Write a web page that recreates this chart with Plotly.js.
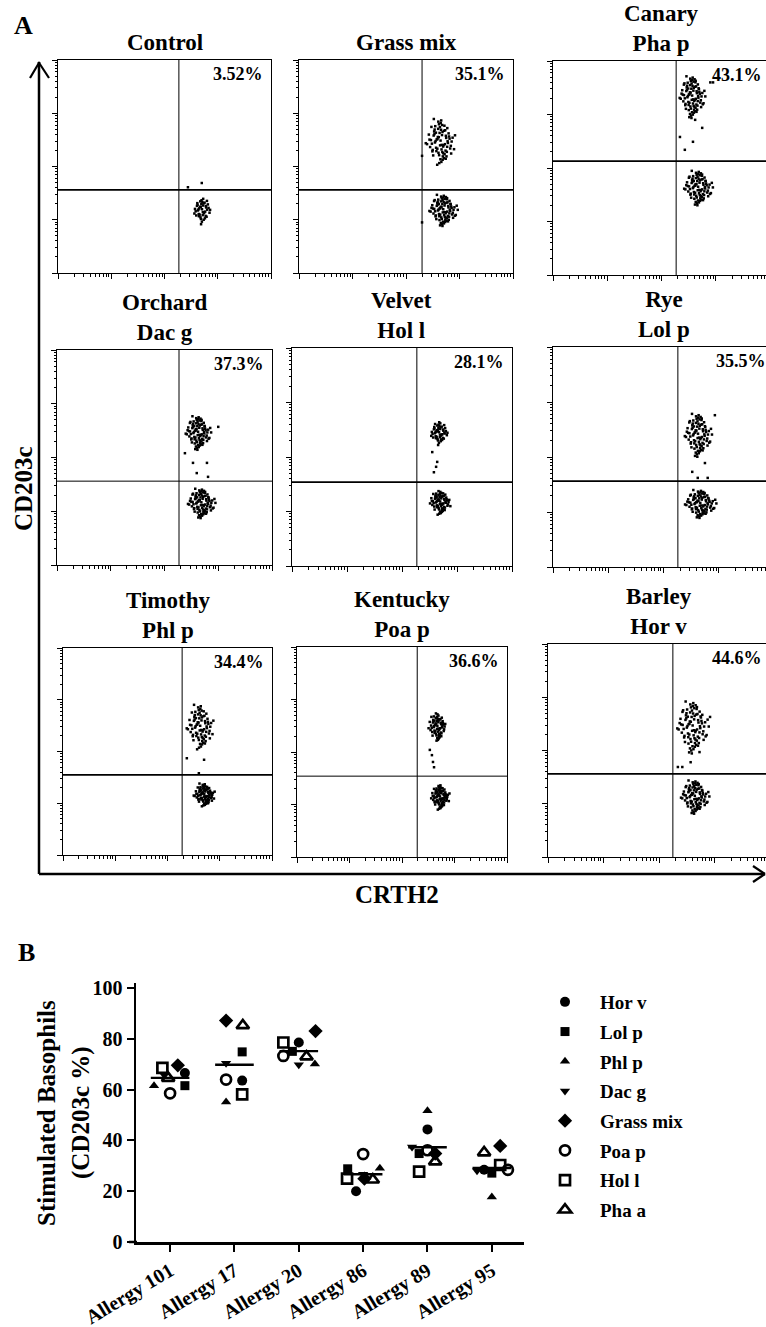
<!DOCTYPE html>
<html>
<head>
<meta charset="utf-8">
<script src="https://cdn.plot.ly/plotly-3.0.1.min.js"></script>
<style>html,body{margin:0;padding:0;background:#fff;}#chart{width:766px;height:1327px;}</style>
</head>
<body>
<div id="chart"></div>
<script>
// ---------------- DATA ----------------
// Panel A: flow cytometry panels (values in log10 decades, axis 10^0 .. 10^4)
const panelTitles = ['Control','Grass mix','Canary<br>Pha p','Orchard<br>Dac g','Velvet<br>Hol l','Rye<br>Lol p','Timothy<br>Phl p','Kentucky<br>Poa p','Barley<br>Hor v'];
const panelPercents = ['3.52%','35.1%','43.1%','37.3%','28.1%','35.5%','34.4%','36.6%','44.6%'];
const gateX = [2.27,2.30,2.27,2.27,2.27,2.26,2.28,2.29,2.25];
const gateY = [1.56,1.56,2.13,1.56,1.54,1.56,1.55,1.54,1.56];
// clusters: [centre CRTH2, centre CD203c, half-spread x, half-spread y, number of events]
const clusterCentres = [
  [[2.70,1.18,0.22,0.30,45]],
  [[2.64,2.46,0.30,0.45,80],[2.69,1.18,0.28,0.30,90]],
  [[2.56,3.33,0.25,0.40,90],[2.67,1.63,0.28,0.33,90]],
  [[2.62,2.46,0.25,0.32,90],[2.68,1.15,0.27,0.28,90]],
  [[2.67,2.44,0.22,0.25,50],[2.69,1.17,0.22,0.24,70]],
  [[2.62,2.40,0.26,0.40,90],[2.66,1.15,0.30,0.26,90]],
  [[2.62,2.47,0.28,0.45,80],[2.70,1.16,0.22,0.23,80]],
  [[2.67,2.48,0.20,0.30,65],[2.72,1.14,0.20,0.25,75]],
  [[2.60,2.44,0.30,0.50,90],[2.64,1.13,0.27,0.32,90]]
];
// scattered events between the populations
const tailEvents = [
  [[2.70,1.69],[2.44,1.61]],
  [[2.30,2.20],[2.30,0.95]],
  [[2.34,2.58],[2.43,2.34],[2.58,2.49],[2.75,2.75],[2.90,3.60],[2.95,3.60],[2.62,2.90]],
  [[2.53,1.90],[2.60,1.71],[2.79,1.90],[2.81,1.64],[2.38,2.08],[3.00,2.57]],
  [[2.64,1.91],[2.62,1.82],[2.58,1.72],[2.55,2.09]],
  [[2.52,1.73],[2.75,1.89],[2.62,1.62],[2.80,1.62],[2.93,2.76]],
  [[2.37,1.87],[2.70,1.84],[2.60,1.58]],
  [[2.53,2.04],[2.57,1.94],[2.59,1.81],[2.61,1.71]],
  [[2.34,1.69],[2.42,1.69],[2.57,1.78],[2.73,1.97],[2.78,2.67],[2.92,2.63]]
];
// shape of an event cloud (hand-placed, unit half-spread)
const cloudDX = [
 0.02,-0.15,0.21,-0.33,0.08,0.37,-0.04,-0.26,0.14,0.29,
 -0.11,0.46,-0.41,0.05,0.18,-0.22,0.33,-0.07,0.11,-0.52,
 0.58,-0.18,0.24,-0.36,0.41,-0.02,0.09,-0.29,0.16,-0.47,
 0.52,-0.09,0.27,-0.58,0.66,0.01,-0.13,0.35,-0.24,0.44,
 -0.63,0.12,-0.38,0.71,-0.06,0.19,-0.31,0.48,-0.17,0.03,
 0.62,-0.71,0.23,-0.44,0.31,-0.01,0.77,-0.55,0.07,-0.27,
 0.39,-0.12,0.55,-0.82,0.15,-0.35,0.86,-0.19,0.26,-0.67,
 0.06,0.43,-0.49,0.92,-0.08,0.34,-0.90,0.13,-0.40,0.68,
 -0.23,0.50,-0.76,0.20,-0.03,0.80,-0.59,0.28,-0.14,0.99
];
const cloudDY = [
 0.06,0.21,-0.13,-0.02,-0.31,0.17,0.38,-0.24,0.42,-0.09,
 -0.45,0.03,0.27,0.51,-0.19,0.11,-0.36,-0.55,0.29,-0.07,
 0.14,-0.28,0.47,0.33,-0.41,0.62,-0.12,0.04,-0.60,-0.33,
 0.36,0.20,-0.51,0.08,-0.16,-0.72,0.55,0.26,-0.38,0.58,
 -0.21,0.71,0.44,0.02,-0.88,-0.47,0.66,-0.04,0.12,0.79,
 -0.27,0.31,-0.67,-0.56,0.49,-0.14,0.18,0.63,-0.83,0.39,
 -0.60,0.85,0.23,-0.09,-0.74,0.52,-0.30,-0.95,0.68,0.10,
 0.90,-0.20,-0.39,0.28,0.74,-0.70,-0.05,-0.42,0.96,-0.48,
 -0.62,0.40,0.15,0.82,-0.99,-0.35,0.57,0.75,-0.80,0.02
];

// Panel B
const patients = ['Allergy 101','Allergy 17','Allergy 20','Allergy 86','Allergy 89','Allergy 95'];
const species = ['Hor v','Lol p','Phl p','Dac g','Grass mix','Poa p','Hol l','Pha a'];
const horV     = [66.5, 63.5, 78.5, 20.0, 44.3, 28.4];
const lolP     = [61.5, 74.8, 75.0, 28.8, 34.8, 27.1];
const phlP     = [61.5, 55.1, 70.0, 29.0, 51.6, 17.7];
const dacG     = [66.0, 70.3, 69.7, 26.7, 37.4, 28.0];
const grassMix = [69.5, 87.1, 83.0, 24.9, 34.8, 37.8];
const poaP     = [58.5, 63.9, 73.2, 34.6, 36.1, 28.4];
const holL     = [68.5, 58.1, 78.5, 24.9, 27.7, 30.3];
const phaA     = [64.5, 85.2, 72.9, 24.5, 31.6, 35.2];
const speciesValues = [horV, lolP, phlP, dacG, grassMix, poaP, holL, phaA];

// ---------------- LAYOUT / STYLE ----------------
const W = 766, H = 1327;
const px = x => x / W;
const py = y => 1 - y / H;
const SERIF = 'Liberation Serif, Times New Roman, serif';

// panel frames in pixels [left, top, right, bottom]
const frames = [
  [58,60,271,273],[299,60,513,273],[553,61,770,275],
  [57,350,272,565],[292,348,512,566],[553,347,774,567],
  [63,648,272,855],[297,647,507,857],[548,644,770,857]
];
// jitter of points within each patient group (category units), per species
const jitter = [
  [ 0.23, 0.12, 0.00,-0.11, 0.00,-0.12],
  [ 0.23, 0.12,-0.10,-0.24,-0.13, 0.00],
  [-0.25,-0.13, 0.25, 0.26, 0.00, 0.00],
  [-0.10,-0.13, 0.00, 0.00,-0.24,-0.23],
  [ 0.12,-0.13, 0.26, 0.02, 0.12, 0.13],
  [ 0.00,-0.13,-0.24, 0.00, 0.00, 0.25],
  [-0.12, 0.12,-0.24,-0.25,-0.13, 0.13],
  [-0.03, 0.13, 0.12, 0.15, 0.12,-0.12]
];
const symbols = ['circle','square','triangle-up','triangle-down','diamond','circle-open','square-open','triangle-up-open'];
const msize = [10,9,9,9,11,10,10,11];

const traces = [];
const layout = {
  width: W, height: H,
  margin: {l:0, r:0, t:0, b:0},
  paper_bgcolor: '#fff', plot_bgcolor: '#fff',
  font: {family: SERIF, color: '#000'},
  showlegend: true,
  shapes: [], annotations: []
};

const majorVals = [1,10,100,1000,10000];
const minorVals = [];
for (let d = 0; d < 4; d++) for (let k = 2; k <= 9; k++) minorVals.push(k * Math.pow(10, d));

frames.forEach((f, i) => {
  const n = i + 1;
  const xa = 'xaxis' + (n === 1 ? '' : n), ya = 'yaxis' + (n === 1 ? '' : n);
  const xr = 'x' + (n === 1 ? '' : n), yr = 'y' + (n === 1 ? '' : n);
  const right = Math.min(f[2], W);
  const xMax = 4 * (right - f[0]) / (f[2] - f[0]);
  const axCommon = {
    type: 'log', showgrid: false, zeroline: false, showline: true, mirror: true,
    linecolor: '#000', linewidth: 1, ticks: 'outside', ticklen: 5, tickwidth: 1, tickcolor: '#000',
    tickmode: 'array', tickvals: majorVals, showticklabels: false, fixedrange: true,
    minor: {tickmode: 'array', tickvals: minorVals, ticks: 'outside', ticklen: 2.5, tickwidth: 1, tickcolor: '#000'}
  };
  layout[xa] = Object.assign({}, axCommon, {domain: [px(f[0]), px(right)], range: [0, xMax], anchor: yr});
  layout[ya] = Object.assign({}, axCommon, {domain: [py(f[3]), py(f[1])], range: [0, 4], anchor: xr});

  // events
  const ex = [], ey = [];
  clusterCentres[i].forEach(c => {
    for (let k = 0; k < c[4]; k++) {
      ex.push(Math.pow(10, c[0] + cloudDX[k] * c[2]));
      ey.push(Math.pow(10, c[1] + cloudDY[k] * c[3]));
    }
  });
  tailEvents[i].forEach(t => { ex.push(Math.pow(10, t[0])); ey.push(Math.pow(10, t[1])); });
  traces.push({type: 'scatter', mode: 'markers', x: ex, y: ey, xaxis: xr, yaxis: yr,
    marker: {symbol: 'square', size: 2.5, color: '#000', line: {width: 0}}, showlegend: false, hoverinfo: 'skip'});
  // quadrant gates
  traces.push({type: 'scatter', mode: 'lines', x: [Math.pow(10, gateX[i]), Math.pow(10, gateX[i])], y: [1, 10000],
    xaxis: xr, yaxis: yr, line: {color: '#000', width: 1}, showlegend: false, hoverinfo: 'skip'});
  traces.push({type: 'scatter', mode: 'lines', x: [1, Math.pow(10, xMax)], y: [Math.pow(10, gateY[i]), Math.pow(10, gateY[i])],
    xaxis: xr, yaxis: yr, line: {color: '#000', width: (i === 3 || i === 7) ? 1 : 1.8}, showlegend: false, hoverinfo: 'skip'});

  // title
  layout.annotations.push({xref: 'paper', yref: 'paper', x: px((f[0] + f[2]) / 2), y: py(f[1] - 3),
    xanchor: 'center', yanchor: 'bottom', showarrow: false, text: panelTitles[i],
    font: {family: SERIF, size: 23, weight: 700, color: '#000'}});
  // percentage
  layout.annotations.push({xref: 'paper', yref: 'paper', x: px(f[2] - 6), y: py(f[1] + 2),
    xanchor: 'right', yanchor: 'top', showarrow: false, text: panelPercents[i],
    font: {family: SERIF, size: 18, weight: 700, color: '#000'}});
});

// Panel B axes
const bL = 136, bR = 524, bT = 983, bB = 1242;
layout.xaxis10 = {domain: [px(bL), px(bR)], range: [-0.53, 5.5], anchor: 'y10', showgrid: false, zeroline: false,
  showline: true, linecolor: '#000', linewidth: 2.5, ticks: 'outside', ticklen: 7, tickwidth: 2, tickcolor: '#000',
  tickmode: 'array', tickvals: patients.map((p, k) => k), ticktext: patients, tickangle: -31,
  tickfont: {family: SERIF, size: 20, weight: 700, color: '#000'}, fixedrange: true};
layout.yaxis10 = {domain: [py(bB), py(bT)], range: [0, 101.9], anchor: 'x10', showgrid: false, zeroline: false,
  showline: true, linecolor: '#000', linewidth: 2.5, ticks: 'outside', ticklen: 7, tickwidth: 2, tickcolor: '#000',
  tickmode: 'array', tickvals: [0,20,40,60,80,100],
  tickfont: {family: SERIF, size: 20, weight: 700, color: '#000'}, fixedrange: true};

speciesValues.forEach((vals, s) => {
  const open = symbols[s].indexOf('open') >= 0;
  traces.push({type: 'scatter', mode: 'markers', name: species[s], legendgroup: species[s],
    x: vals.map((v, p) => p + jitter[s][p]), y: vals, xaxis: 'x10', yaxis: 'y10', cliponaxis: false,
    marker: {symbol: symbols[s], size: msize[s], color: '#000', line: {color: '#000', width: open ? 2.7 : 0}}});
});
// group means
patients.forEach((p, k) => {
  const m = speciesValues.reduce((a, v) => a + v[k], 0) / speciesValues.length;
  traces.push({type: 'scatter', mode: 'lines', x: [k - 0.3, k + 0.3], y: [m, m], xaxis: 'x10', yaxis: 'y10',
    line: {color: '#000', width: 2.4}, showlegend: false, hoverinfo: 'skip'});
});

layout.legend = {x: px(530), y: py(983), xanchor: 'left', yanchor: 'top', bgcolor: 'rgba(0,0,0,0)', itemwidth: 60,
  font: {family: SERIF, size: 19, weight: 700, color: '#000'}, tracegroupgap: 2, itemclick: false, itemdoubleclick: false};

const ann = (x, y, text, size, angle) => ({xref: 'paper', yref: 'paper', x: px(x), y: py(y), xanchor: 'center', yanchor: 'middle',
  textangle: angle || 0, showarrow: false, text: text, font: {family: SERIF, size: size, weight: 700, color: '#000'}});
// Y title of panel B
layout.annotations.push(ann(46, 1113, 'Stimulated Basophils', 25, -90));
layout.annotations.push(ann(81, 1113, '(CD203c %)', 25, -90));
// panel letters and global axis labels
layout.annotations.push(ann(23, 25, 'A', 26));
layout.annotations.push(ann(26, 952, 'B', 26));
layout.annotations.push(ann(23, 489, 'CD203c', 25, -90));
layout.annotations.push(ann(397, 894, 'CRTH2', 25));

// big arrows
const L = (x0, y0, x1, y1, w) => ({type: 'line', xref: 'paper', yref: 'paper', x0: px(x0), y0: py(y0), x1: px(x1), y1: py(y1),
  line: {color: '#000', width: w}});
layout.shapes.push(L(39, 874, 39, 62, 2.5));
layout.shapes.push(L(30, 78, 39.5, 62, 2.2));
layout.shapes.push(L(49, 78, 38.5, 62, 2.2));
layout.shapes.push(L(39, 874, 765, 874, 2.5));
layout.shapes.push(L(753, 866, 765, 874, 2.2));
layout.shapes.push(L(753, 882, 765, 874, 2.2));
// x axis of panel B starts slightly left of the y axis
layout.shapes.push(L(129, 1242, 137, 1242, 2.5));

Plotly.newPlot('chart', traces, layout, {displayModeBar: false, staticPlot: true});
</script>
</body>
</html>
